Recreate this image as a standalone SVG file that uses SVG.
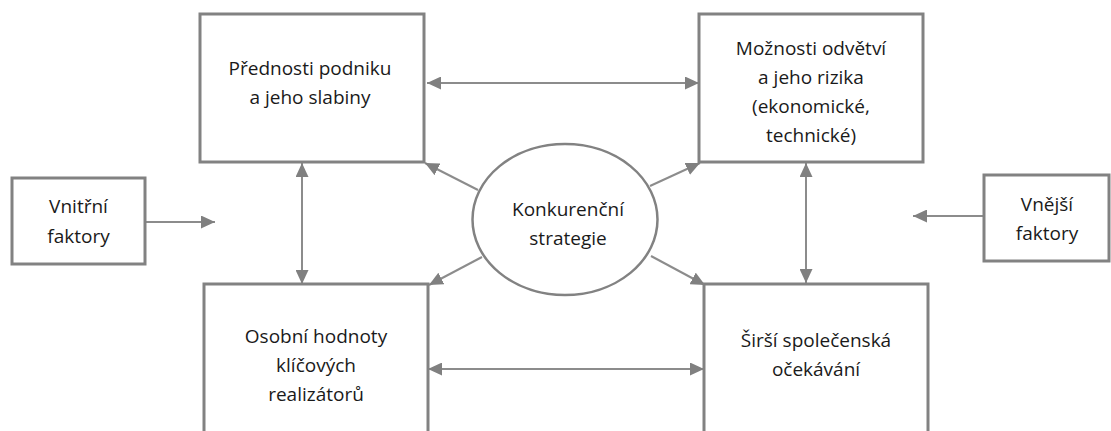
<svg xmlns="http://www.w3.org/2000/svg" width="1111" height="431" viewBox="0 0 1111 431">
<style>
.box{fill:#fff;stroke:#828282;stroke-width:3}
.ell{fill:#fff;stroke:#828282;stroke-width:2.5}
.con{fill:none;stroke:#8c8c8c;stroke-width:2}
text{font-family:"Open Sans","Liberation Sans",Arial,sans-serif;font-size:19px;fill:#1a1a1a;text-anchor:middle}
</style>
<defs>
<marker id="ah" markerUnits="userSpaceOnUse" markerWidth="15" markerHeight="13" refX="14" refY="6.5" orient="auto-start-reverse" viewBox="0 0 15 13">
<path d="M0,0 L14,6.5 L0,13 z" fill="#808080"/>
</marker>
</defs>
<rect width="1111" height="431" fill="#fff"/>
<g id="connectors">
<line class="con" x1="427" y1="83" x2="699" y2="83" marker-start="url(#ah)" marker-end="url(#ah)"/>
<line class="con" x1="428" y1="369" x2="704" y2="369" marker-start="url(#ah)" marker-end="url(#ah)"/>
<line class="con" x1="302" y1="163" x2="302" y2="284" marker-start="url(#ah)" marker-end="url(#ah)"/>
<line class="con" x1="806" y1="163" x2="806" y2="283" marker-start="url(#ah)" marker-end="url(#ah)"/>
<line class="con" x1="145" y1="222" x2="215" y2="222" marker-end="url(#ah)"/>
<line class="con" x1="984" y1="216" x2="913" y2="216" marker-end="url(#ah)"/>
<line class="con" x1="478" y1="190" x2="425" y2="163" marker-end="url(#ah)"/>
<line class="con" x1="650" y1="186" x2="700" y2="163" marker-end="url(#ah)"/>
<line class="con" x1="482" y1="257" x2="429" y2="285" marker-end="url(#ah)"/>
<line class="con" x1="651" y1="256" x2="705" y2="285" marker-end="url(#ah)"/>
</g>
<g id="strengths">
<rect class="box" x="200" y="14" width="224" height="148"/>
<text x="310" y="75">Přednosti podniku</text>
<text x="310" y="104">a jeho slabiny</text>
</g>
<g id="opportunities">
<rect class="box" x="699" y="14" width="224" height="148"/>
<text x="811" y="55">Možnosti odvětví</text>
<text x="811" y="84">a jeho rizika</text>
<text x="811" y="113">(ekonomické,</text>
<text x="811" y="142">technické)</text>
</g>
<g id="values">
<rect class="box" x="204" y="284" width="224" height="165"/>
<text x="316" y="343">Osobní hodnoty</text>
<text x="316" y="372">klíčových</text>
<text x="316" y="401">realizátorů</text>
</g>
<g id="expectations">
<rect class="box" x="704" y="284" width="224" height="165"/>
<text x="816" y="347">Širší společenská</text>
<text x="816" y="376">očekávání</text>
</g>
<g id="internal">
<rect class="box" x="12" y="178" width="133" height="86"/>
<text x="78.5" y="213">Vnitřní</text>
<text x="78.5" y="243">faktory</text>
</g>
<g id="external">
<rect class="box" x="984" y="175" width="125" height="86"/>
<text x="1047" y="211">Vnější</text>
<text x="1047" y="240">faktory</text>
</g>
<g id="strategy">
<ellipse class="ell" cx="565" cy="219.5" rx="92.5" ry="75.5"/>
<text x="568" y="216">Konkurenční</text>
<text x="568" y="245">strategie</text>
</g>
</svg>
